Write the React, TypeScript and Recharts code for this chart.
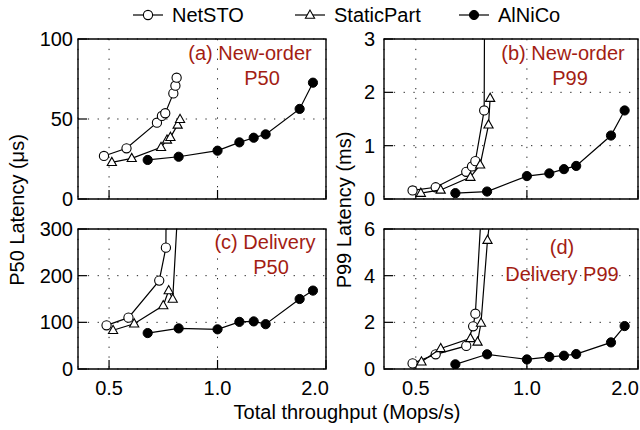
import React from "react";
import {
  ScatterChart,
  Scatter,
  XAxis,
  YAxis,
  CartesianGrid,
  ReferenceArea,
} from "recharts";

const FONT = '"Liberation Sans", Arial, Helvetica, sans-serif';
const RED = "#a31d13";

// x: total throughput (Mops/s), y: latency
const alnicoX = [0.64, 0.78, 1.0, 1.15, 1.26, 1.36, 1.69, 1.84];
const alnicoNoP50 = [24.4, 26.4, 30.2, 35.4, 38.3, 40.4, 56.3, 72.7];
const alnicoNoP99 = [0.11, 0.14, 0.43, 0.48, 0.56, 0.62, 1.19, 1.66];
const alnicoDlP50 = [77, 87, 85, 101, 102, 96, 150, 168];
const alnicoDlP99 = [0.2, 0.63, 0.41, 0.52, 0.57, 0.64, 1.14, 1.84];

const netstoNoP50X = [0.484, 0.559, 0.679, 0.701, 0.716, 0.754, 0.764, 0.77];
const netstoNoP50 = [26.9, 31.7, 47.7, 51.9, 53.6, 66, 70.8, 75.8];
const netstoNoP99X = [0.49, 0.566, 0.685, 0.71, 0.725, 0.766, 0.77];
const netstoNoP99 = [0.16, 0.22, 0.51, 0.61, 0.71, 1.66, 6];
const netstoDlP50X = [0.492, 0.566, 0.689, 0.719, 0.725];
const netstoDlP50 = [93.6, 110, 189.4, 260, 800];
const netstoDlP99X = [0.49, 0.566, 0.685, 0.715, 0.725, 0.77];
const netstoDlP99 = [0.24, 0.63, 0.99, 1.83, 2.37, 9.5];

const staticNoP50X = [0.509, 0.578, 0.697, 0.724, 0.74, 0.775, 0.787];
const staticNoP50 = [22.9, 25.4, 32.3, 36.9, 38.6, 46.3, 49.8];
const staticNoP99X = [0.516, 0.584, 0.703, 0.747, 0.787, 0.795];
const staticNoP99 = [0.11, 0.17, 0.41, 0.64, 1.39, 1.89];
const staticDlP50X = [0.513, 0.587, 0.707, 0.732, 0.751, 0.787];
const staticDlP50 = [83, 97, 136, 168, 150, 430];
const staticDlP99X = [0.518, 0.584, 0.703, 0.735, 0.751, 0.782, 0.795];
const staticDlP99 = [0.31, 0.88, 1.31, 1.16, 1.97, 5.52, 6.5];

const xTicks = [0.5, 1.0, 2.0];
const X_DOMAIN: [number, number] = [0.41, 2.0];

const zip = (xs: number[], ys: number[]) => xs.map((x, i) => ({ x, y: ys[i] }));

function OpenCircle(props: any) {
  const { cx, cy } = props;
  return <circle cx={cx} cy={cy} r={4.6} fill="#fff" stroke="#000" strokeWidth={1.1} />;
}

function OpenTriangle(props: any) {
  const { cx, cy } = props;
  const pts = `${cx},${cy - 5} ${cx - 4.6},${cy + 3.2} ${cx + 4.6},${cy + 3.2}`;
  return <polygon points={pts} fill="#fff" stroke="#000" strokeWidth={1.1} />;
}

function FilledDot(props: any) {
  const { cx, cy } = props;
  return <circle cx={cx} cy={cy} r={4.6} fill="#000" stroke="#000" strokeWidth={1} />;
}

function EmptyTick() {
  return <g />;
}

// last label ("2.0") sits at the frame edge, so right-align it
function XTick(props: any) {
  const { x, y, payload, rightEdge } = props;
  const last = payload.value >= 2;
  return (
    <text
      x={last ? Math.min(x + 4, rightEdge) : x}
      y={y}
      dy="0.71em"
      textAnchor={last ? "end" : "middle"}
      fontSize={20}
      fontFamily={FONT}
      fill="#000"
    >
      {payload.value.toFixed(1)}
    </text>
  );
}

const LINE = { stroke: "#000", strokeWidth: 1.2 };

interface PanelProps {
  left: number;
  top: number;
  width: number;
  height: number;
  yWidth: number;
  yTicks: number[];
  yMax: number;
  yTickMargin: number;
  showX: boolean;
  net: { x: number; y: number }[];
  sp: { x: number; y: number }[];
  al: { x: number; y: number }[];
  margin: { top: number; right: number; bottom: number; left: number };
}

function Panel(p: PanelProps) {
  return (
    <div style={{ position: "absolute", left: p.left, top: p.top }}>
      <ScatterChart width={p.width} height={p.height} margin={p.margin}>
        <CartesianGrid stroke="#222" strokeDasharray="1.3 8.5" strokeWidth={1} />
        <XAxis
          dataKey="x"
          type="number"
          scale="log"
          domain={X_DOMAIN}
          allowDataOverflow
          ticks={xTicks}
          height={p.showX ? 31 : 1}
          axisLine={false}
          tickLine={{ stroke: "#000", strokeWidth: 1.2 }}
          tickSize={-9}
          tickMargin={21}
          tick={p.showX ? <XTick rightEdge={p.width - 1} /> : <EmptyTick />}
          interval={0}
        />
        <YAxis
          dataKey="y"
          type="number"
          domain={[0, p.yMax]}
          allowDataOverflow
          ticks={p.yTicks}
          width={p.yWidth}
          axisLine={false}
          tickLine={{ stroke: "#000", strokeWidth: 1.2 }}
          tickSize={-9}
          tickMargin={p.yTickMargin}
          tick={{ fontSize: 20, fill: "#000", fontFamily: FONT }}
          interval={0}
        />
        <ReferenceArea
          x1={X_DOMAIN[0]}
          x2={X_DOMAIN[1]}
          y1={0}
          y2={p.yMax}
          fill="none"
          fillOpacity={0}
          stroke="#000"
          strokeWidth={1.4}
        />
        <Scatter data={p.net} line={LINE} lineType="joint" shape={OpenCircle} isAnimationActive={false} />
        <Scatter data={p.sp} line={LINE} lineType="joint" shape={OpenTriangle} isAnimationActive={false} />
        <Scatter data={p.al} line={LINE} lineType="joint" shape={FilledDot} isAnimationActive={false} />
      </ScatterChart>
    </div>
  );
}

function LegendItem({ x, label, kind }: { x: number; label: string; kind: string }) {
  const cy = 15;
  return (
    <g>
      <line x1={x} x2={x + 30} y1={cy} y2={cy} stroke="#000" strokeWidth={1.2} />
      {kind === "circle" && <OpenCircle cx={x + 15} cy={cy} />}
      {kind === "tri" && <OpenTriangle cx={x + 15} cy={cy} />}
      {kind === "dot" && <FilledDot cx={x + 15} cy={cy} />}
      <text x={x + 39} y={cy + 7} fontSize={20} fontFamily={FONT} fill="#000">
        {label}
      </text>
    </g>
  );
}

function Title({ x, y, text }: { x: number; y: number; text: string }) {
  return (
    <text x={x} y={y + 7} textAnchor="middle" fontSize={20} fontFamily={FONT} fill={RED}>
      {text}
    </text>
  );
}

export default function App() {
  return (
    <div
      style={{
        position: "absolute",
        left: 0,
        top: 0,
        width: 640,
        height: 430,
        background: "#fff",
        fontFamily: FONT,
      }}
    >
      <Panel
        left={0}
        top={0}
        width={330}
        height={215}
        margin={{ top: 39, right: 4, bottom: 15, left: 0 }}
        yWidth={78}
        yTicks={[0, 50, 100]}
        yMax={100}
        yTickMargin={14}
        showX={false}
        net={zip(netstoNoP50X, netstoNoP50)}
        sp={zip(staticNoP50X, staticNoP50)}
        al={zip(alnicoX, alnicoNoP50)}
      />
      <Panel
        left={320}
        top={0}
        width={320}
        height={215}
        margin={{ top: 39, right: 2, bottom: 15, left: 0 }}
        yWidth={64}
        yTicks={[0, 1, 2, 3]}
        yMax={3}
        yTickMargin={18}
        showX={false}
        net={zip(netstoNoP99X, netstoNoP99)}
        sp={zip(staticNoP99X, staticNoP99)}
        al={zip(alnicoX, alnicoNoP99)}
      />
      <Panel
        left={0}
        top={200}
        width={330}
        height={200}
        margin={{ top: 29, right: 4, bottom: 0, left: 0 }}
        yWidth={78}
        yTicks={[0, 100, 200, 300]}
        yMax={300}
        yTickMargin={14}
        showX={true}
        net={zip(netstoDlP50X, netstoDlP50)}
        sp={zip(staticDlP50X, staticDlP50)}
        al={zip(alnicoX, alnicoDlP50)}
      />
      <Panel
        left={320}
        top={200}
        width={320}
        height={200}
        margin={{ top: 29, right: 2, bottom: 0, left: 0 }}
        yWidth={64}
        yTicks={[0, 2, 4, 6]}
        yMax={6}
        yTickMargin={18}
        showX={true}
        net={zip(netstoDlP99X, netstoDlP99)}
        sp={zip(staticDlP99X, staticDlP99)}
        al={zip(alnicoX, alnicoDlP99)}
      />
      <svg
        width={640}
        height={430}
        style={{ position: "absolute", left: 0, top: 0, pointerEvents: "none" }}
      >
        <LegendItem x={133} label="NetSTO" kind="circle" />
        <LegendItem x={295} label="StaticPart" kind="tri" />
        <LegendItem x={459} label="AlNiCo" kind="dot" />
        <Title x={250} y={53} text="(a) New-order" />
        <Title x={262} y={78} text="P50" />
        <Title x={563} y={53} text="(b) New-order" />
        <Title x={570} y={78} text="P99" />
        <Title x={265} y={242} text="(c) Delivery" />
        <Title x={271} y={267} text="P50" />
        <Title x={562} y={247} text="(d)" />
        <Title x={562} y={274} text="Delivery P99" />
        <text
          transform="translate(24,210) rotate(-90)"
          textAnchor="middle"
          fontSize={20}
          fontFamily={FONT}
          fill="#000"
        >
          P50 Latency (μs)
        </text>
        <text
          transform="translate(351,210) rotate(-90)"
          textAnchor="middle"
          fontSize={20}
          fontFamily={FONT}
          fill="#000"
        >
          P99 Latency (ms)
        </text>
        <text x={347} y={419} textAnchor="middle" fontSize={20} fontFamily={FONT} fill="#000">
          Total throughput (Mops/s)
        </text>
      </svg>
    </div>
  );
}
